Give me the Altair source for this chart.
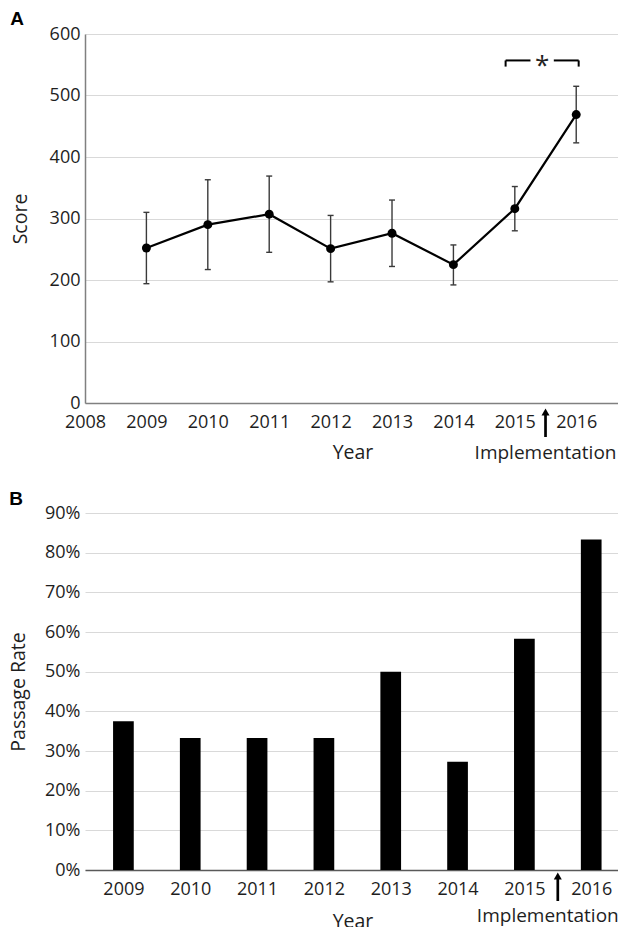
import altair as alt
import pandas as pd

# ---------------- data ----------------
years = [2009, 2010, 2011, 2012, 2013, 2014, 2015, 2016]
score_mean = [252, 290, 307, 251, 276, 225, 316, 469]
score_low = [194, 217, 245, 197, 222, 192, 280, 423]
score_high = [310, 363, 369, 305, 330, 257, 352, 515]
passage_rate = [0.375, 0.333, 0.333, 0.333, 0.500, 0.273, 0.583, 0.833]

year_ticks = [2008, 2009, 2010, 2011, 2012, 2013, 2014, 2015, 2016]
score_ticks = [0, 100, 200, 300, 400, 500, 600]
rate_ticks = [0.0, 0.1, 0.2, 0.3, 0.4, 0.5, 0.6, 0.7, 0.8, 0.9]

bracket_start = 2014.85
bracket_end = 2016.04
bracket_level = 557
bracket_drop = 547
bracket_gap = 0.19
implementation_year = 2015.5

# ---------------- style ----------------
FONT = "Open Sans"
TEXT = "#1e1e1e"
GRID = "#d9d9d9"
W = 535
H1 = 369
H2 = 357

df_score = pd.DataFrame({"year": years, "mean": score_mean,
                         "low": score_low, "high": score_high})
df_rate = pd.DataFrame({"year": years, "rate": passage_rate})
mid = (bracket_start + bracket_end) / 2
df_bracket = pd.DataFrame({
    "x0": [bracket_start, mid + bracket_gap, bracket_start, bracket_end],
    "x1": [mid - bracket_gap, bracket_end, bracket_start, bracket_end],
    "y0": [bracket_level] * 4,
    "y1": [bracket_level, bracket_level, bracket_drop, bracket_drop],
})
df_star = pd.DataFrame({"x0": [mid], "y0": [bracket_level], "t": ["*"]})
df_impl = pd.DataFrame({"x0": [implementation_year], "label": ["Implementation"]})

# ---------------- top panel ----------------
xs_top = alt.Scale(domain=[2008, 2016.713], nice=False, zero=False)
xa_top = alt.Axis(values=year_ticks, format="d", title="Year", grid=False,
                  ticks=False, domainColor="#808080", domainWidth=1.5,
                  labelFontSize=18, labelPadding=10, labelFlush=False,
                  titleFontSize=19.5, titlePadding=12)
ys_top = alt.Scale(domain=[0, 600], nice=False)
ya_top = alt.Axis(values=score_ticks, title="Score", grid=True, gridColor=GRID,
                  domainColor="#808080", domainWidth=1.5, ticks=False,
                  labelFontSize=18, labelPadding=5, titleFontSize=19.5,
                  titlePadding=18.5)


def XT(f):
    return alt.X(f"{f}:Q", scale=xs_top, axis=xa_top)


def YT(f):
    return alt.Y(f"{f}:Q", scale=ys_top, axis=ya_top)


err = alt.Chart(df_score).mark_rule(color="#3a3a3a", strokeWidth=1.4).encode(
    x=XT("year"), y=YT("low"), y2="high")
cap_lo = alt.Chart(df_score).mark_tick(orient="horizontal", size=6, thickness=1.4,
                                       color="#3a3a3a", opacity=1).encode(
    x=XT("year"), y=YT("low"))
cap_hi = alt.Chart(df_score).mark_tick(orient="horizontal", size=6, thickness=1.4,
                                       color="#3a3a3a", opacity=1).encode(
    x=XT("year"), y=YT("high"))
line = alt.Chart(df_score).mark_line(color="black", strokeWidth=2.2).encode(
    x=XT("year"), y=YT("mean"))
pts = alt.Chart(df_score).mark_circle(size=80, color="black", opacity=1).encode(
    x=XT("year"), y=YT("mean"))
bracket = alt.Chart(df_bracket).mark_rule(color="black", strokeWidth=2).encode(
    x=XT("x0"), x2="x1", y=YT("y0"), y2="y1")
star = alt.Chart(df_star).mark_text(fontSize=26, font=FONT, color="#222",
                                    baseline="middle", dy=6).encode(
    x=XT("x0"), y=YT("y0"), text="t")
shaft_t = alt.Chart(df_impl).mark_rule(color="black", strokeWidth=2.7).encode(
    x=XT("x0"), y=alt.value(H1 + 10), y2=alt.value(H1 + 34))
head_t = alt.Chart(df_impl).mark_point(shape="triangle-up", filled=True, size=64,
                                       color="black", opacity=1).encode(
    x=XT("x0"), y=alt.value(H1 + 9))
impl_t = alt.Chart(df_impl).mark_text(fontSize=19, font=FONT, color=TEXT,
                                      baseline="middle").encode(
    x=XT("x0"), y=alt.value(H1 + 50), text="label")
lab_a = alt.Chart(pd.DataFrame({"t": ["A"]})).mark_text(
    fontSize=19, fontWeight="bold", font="Liberation Sans", color="black",
    align="center", baseline="middle").encode(
    x=alt.value(-68), y=alt.value(-15), text="t")

top = alt.layer(err, cap_lo, cap_hi, line, pts, bracket, star,
                shaft_t, head_t, impl_t, lab_a).properties(width=W, height=H1)

# ---------------- bottom panel ----------------
xs_bot = alt.Scale(domain=[2008.5, 2016.356], nice=False, zero=False)
xa_bot = alt.Axis(values=years, format="d", title="Year", grid=False,
                  ticks=False, domainColor="#595959", domainWidth=1.5,
                  labelFontSize=18, labelPadding=10, labelFlush=False,
                  titleFontSize=19.5, titlePadding=14)
ys_bot = alt.Scale(domain=[0, 0.9], nice=False)
ya_bot = alt.Axis(values=rate_ticks, format=".0%", title="Passage Rate",
                  grid=True, gridColor=GRID, domain=False, ticks=False,
                  labelFontSize=18, labelPadding=5, titleFontSize=19.5,
                  titlePadding=16)


def XB(f):
    return alt.X(f"{f}:Q", scale=xs_bot, axis=xa_bot)


bars = alt.Chart(df_rate).mark_bar(size=20.7, color="black").encode(
    x=XB("year"), y=alt.Y("rate:Q", scale=ys_bot, axis=ya_bot))
shaft_b = alt.Chart(df_impl).mark_rule(color="black", strokeWidth=2.7).encode(
    x=XB("x0"), y=alt.value(H2 + 7), y2=alt.value(H2 + 31))
head_b = alt.Chart(df_impl).mark_point(shape="triangle-up", filled=True, size=64,
                                       color="black", opacity=1).encode(
    x=XB("x0"), y=alt.value(H2 + 6))
impl_b = alt.Chart(df_impl).mark_text(fontSize=19, font=FONT, color=TEXT,
                                      baseline="middle", dx=-10).encode(
    x=XB("x0"), y=alt.value(H2 + 46), text="label")
lab_b = alt.Chart(pd.DataFrame({"t": ["B"]})).mark_text(
    fontSize=19, fontWeight="bold", font="Liberation Sans", color="black",
    align="center", baseline="middle").encode(
    x=alt.value(-69), y=alt.value(-14), text="t")

bottom = alt.layer(bars, shaft_b, head_b, impl_b, lab_b).properties(
    width=W, height=H2)

chart = alt.vconcat(top, bottom, spacing=27).properties(
    padding={"left": 0, "top": 2, "right": -2, "bottom": 0}
).configure_view(stroke=None).configure_axis(
    labelFont=FONT, titleFont=FONT, labelColor=TEXT, titleColor=TEXT,
    titleFontWeight="normal")

chart.save("out.html", embed_options={"renderer": "svg", "actions": False})
